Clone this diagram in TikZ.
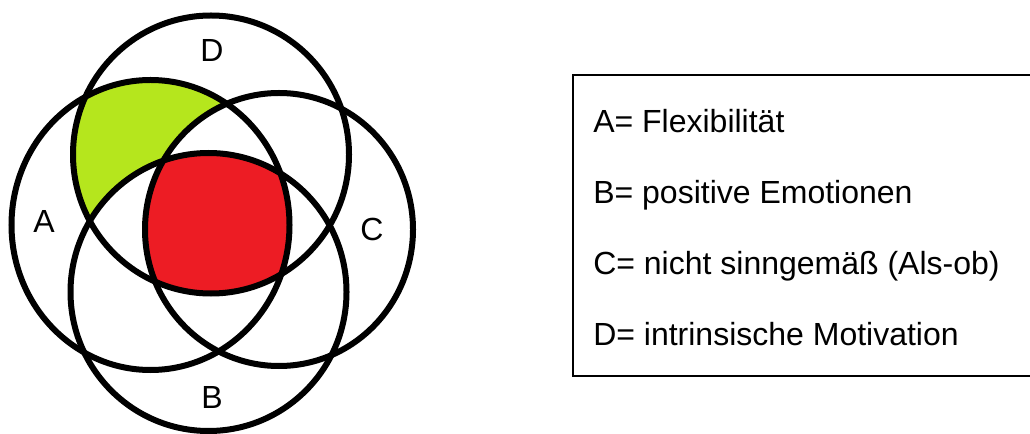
\documentclass[tikz,border=0pt]{standalone}
\usepackage{fontspec}
\setmainfont{Liberation Sans}
\usetikzlibrary{positioning}
\definecolor{vennlime}{RGB}{181,230,29}
\definecolor{vennred}{RGB}{237,28,36}

\begin{document}
\begin{tikzpicture}[
    x=0.75pt, y=-0.75pt,
    ring/.style={draw=black, line width=4.5pt},
    ellA/.style={x radius=139, y radius=145},
    ellB/.style={x radius=138, y radius=139},
    ellC/.style={x radius=134, y radius=136.5},
    ellD/.style={x radius=138, y radius=139},
    setlabel/.style={font=\fontsize{24}{28}\selectfont, inner sep=0pt},
    legendline/.style={font=\fontsize{24}{28}\selectfont, anchor=base west, inner sep=0pt},
]
    \useasboundingbox (0,0) rectangle (1030,434);
    \coordinate (A) at (150.5,225);
    \coordinate (B) at (208.5,292);
    \coordinate (C) at (279,229.5);
    \coordinate (D) at (211,154.5);
    \begin{scope}
        \clip (A) ellipse [ellA];
        \fill[vennlime] (D) ellipse [ellD];
    \end{scope}
    \fill[white] (B) ellipse [ellB];
    \fill[white] (C) ellipse [ellC];
    \begin{scope}
        \clip (A) ellipse [ellA];
        \clip (B) ellipse [ellB];
        \clip (C) ellipse [ellC];
        \fill[vennred] (D) ellipse [ellD];
    \end{scope}
    \draw[ring] (A) ellipse [ellA];
    \draw[ring] (B) ellipse [ellB];
    \draw[ring] (C) ellipse [ellC];
    \draw[ring] (D) ellipse [ellD];
    \node[setlabel] (labA) at (44,221) {A};
    \node[setlabel] (labB) at (212,397) {B};
    \node[setlabel] (labC) at (372,229) {C};
    \node[setlabel] (labD) at (212,50) {D};
    \coordinate (legtr) at (1040,75.5);
    \coordinate (legbr) at (1040,376);
    \draw[line width=1.5pt] (legtr) -| (573,376) -- (legbr);
    \foreach \txt [count=\i from 0] in {{A= Flexibilität},{B= positive Emotionen},{C= nicht sinngemäß (Als-ob)},{D= intrinsische Motivation}}
        \node[legendline] (leg\i) at (593,133+70.7*\i) {\txt};
\end{tikzpicture}
\end{document}
